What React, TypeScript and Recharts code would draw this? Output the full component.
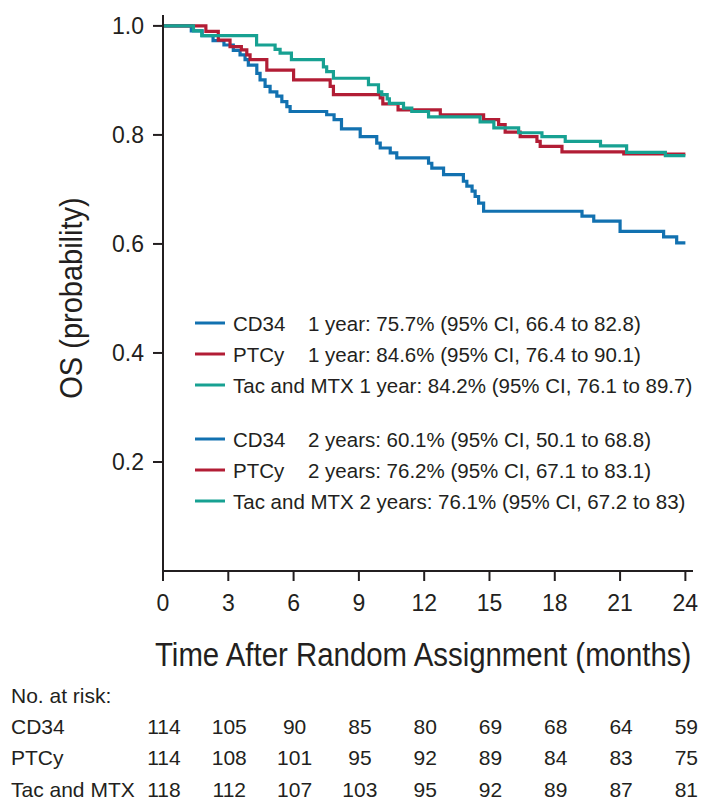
import React from 'react';
import { LineChart, Line, XAxis, YAxis } from 'recharts';

// Kaplan-Meier OS curves (months, probability)
const cd34Time = [0, 1.3, 1.8, 2.3, 2.8, 3.23, 3.54, 3.77, 3.92, 4.31, 4.46, 4.69, 4.92, 5.23, 5.46, 5.69, 5.84, 7.52, 7.86, 8.2, 9.06, 9.82, 9.98, 10.44, 10.74, 12.2, 12.35, 12.89, 13.8, 13.96, 14.2, 14.34, 14.5, 14.73, 19.25, 19.79, 21.0, 23.0, 23.6, 24.0];
const cd34Surv = [1.0, 0.991, 0.982, 0.973, 0.965, 0.955, 0.947, 0.938, 0.928, 0.913, 0.901, 0.889, 0.879, 0.871, 0.861, 0.852, 0.843, 0.837, 0.828, 0.811, 0.797, 0.785, 0.776, 0.767, 0.758, 0.748, 0.739, 0.727, 0.715, 0.706, 0.697, 0.687, 0.675, 0.66, 0.651, 0.642, 0.623, 0.613, 0.602, 0.602];

const ptcyTime = [0, 1.97, 2.54, 3.08, 3.6, 3.85, 4.0, 4.77, 6.0, 7.68, 7.83, 9.98, 10.1, 10.8, 12.74, 14.73, 15.42, 15.72, 16.41, 17.18, 17.33, 18.33, 21.17, 24.0];
const ptcySurv = [1.0, 0.99, 0.974, 0.962, 0.956, 0.947, 0.938, 0.919, 0.901, 0.889, 0.874, 0.868, 0.857, 0.846, 0.837, 0.828, 0.819, 0.805, 0.797, 0.788, 0.779, 0.769, 0.765, 0.765];

const tacTime = [0, 1.4, 1.78, 4.3, 5.15, 5.38, 5.9, 7.37, 7.52, 7.83, 9.44, 9.9, 10.05, 10.3, 10.4, 11.05, 11.43, 12.2, 14.57, 15.2, 16.34, 17.41, 18.48, 20.1, 21.3, 23.08, 24.0];
const tacSurv = [1.0, 0.991, 0.982, 0.965, 0.957, 0.95, 0.938, 0.925, 0.916, 0.904, 0.892, 0.879, 0.874, 0.866, 0.858, 0.849, 0.843, 0.833, 0.824, 0.813, 0.804, 0.797, 0.788, 0.78, 0.768, 0.762, 0.762];

const xTicks = [0, 3, 6, 9, 12, 15, 18, 21, 24];
const yTicks = [0.2, 0.4, 0.6, 0.8, 1.0];

const riskLabels = ['CD34', 'PTCy', 'Tac and MTX'];
const riskCd34 = [114, 105, 90, 85, 80, 69, 68, 64, 59];
const riskPtcy = [114, 108, 101, 95, 92, 89, 84, 83, 75];
const riskTac = [118, 112, 107, 103, 95, 92, 89, 87, 81];

const legendNames = ['CD34', 'PTCy', 'Tac and MTX', 'CD34', 'PTCy', 'Tac and MTX'];
const legendTexts = [
  '1 year: 75.7% (95% CI, 66.4 to 82.8)',
  '1 year: 84.6% (95% CI, 76.4 to 90.1)',
  '1 year: 84.2% (95% CI, 76.1 to 89.7)',
  '2 years: 60.1% (95% CI, 50.1 to 68.8)',
  '2 years: 76.2% (95% CI, 67.1 to 83.1)',
  '2 years: 76.1% (95% CI, 67.2 to 83)',
];

const BLUE = '#1271b0';
const RED = '#b21d35';
const TEAL = '#17a192';
const INK = '#231f20';
const FONT = "'Liberation Sans', Arial, sans-serif";

const legendColors = [BLUE, RED, TEAL, BLUE, RED, TEAL];
const legendRows = [323, 354, 385, 439, 470, 501];

const toPoints = (t: number[], s: number[]) => t.map((v, i) => ({ t: v, s: s[i] }));

// plot geometry (page px) used for the risk table columns
const X0 = 163;
const PX_PER_MONTH = 530 / 24.35;

export default function App() {
  const series = [
    { name: 'CD34', color: BLUE, data: toPoints(cd34Time, cd34Surv) },
    { name: 'PTCy', color: RED, data: toPoints(ptcyTime, ptcySurv) },
    { name: 'Tac and MTX', color: TEAL, data: toPoints(tacTime, tacSurv) },
  ];
  const riskRows = [riskCd34, riskPtcy, riskTac];

  return (
    <div style={{ position: 'absolute', left: 0, top: 0, width: 707, height: 801, background: '#fff', overflow: 'hidden' }}>
      <LineChart width={707} height={801} margin={{ top: 15, right: 14, bottom: 200, left: 103 }}>
        <XAxis
          type="number"
          dataKey="t"
          domain={[0, 24.35]}
          ticks={xTicks}
          height={30}
          tickSize={10}
          tickMargin={14}
          axisLine={{ stroke: INK, strokeWidth: 2 }}
          tickLine={{ stroke: INK, strokeWidth: 2 }}
          tick={{ fill: INK, fontSize: 23, fontFamily: FONT }}
          allowDataOverflow
        />
        <YAxis
          type="number"
          dataKey="s"
          domain={[0, 1.02]}
          ticks={yTicks}
          width={60}
          tickSize={10}
          tickMargin={9}
          tickFormatter={(v: number) => v.toFixed(1)}
          axisLine={{ stroke: INK, strokeWidth: 2 }}
          tickLine={{ stroke: INK, strokeWidth: 2 }}
          tick={{ fill: INK, fontSize: 23, fontFamily: FONT }}
          allowDataOverflow
        />
        {series.map((sr) => (
          <Line
            key={sr.name}
            data={sr.data}
            dataKey="s"
            name={sr.name}
            type="stepAfter"
            stroke={sr.color}
            strokeWidth={3.2}
            dot={false}
            activeDot={false}
            isAnimationActive={false}
          />
        ))}
      </LineChart>

      <svg width={707} height={801} style={{ position: 'absolute', left: 0, top: 0, pointerEvents: 'none' }}>
        <text transform="translate(82 298) rotate(-90) scale(1 1.05)" x={0} y={0} textAnchor="middle"
          fontFamily={FONT} fontSize={29} fill={INK}>OS (probability)</text>
        <text transform="translate(155 666) scale(1 1.13)" x={0} y={0}
          fontFamily={FONT} fontSize={29.4} fill={INK}>Time After Random Assignment (months)</text>

        {legendNames.map((nm, i) => (
          <g key={i}>
            <line x1={195} x2={225} y1={legendRows[i]} y2={legendRows[i]} stroke={legendColors[i]} strokeWidth={3} />
            {nm === 'Tac and MTX' ? (
              <text x={233} y={legendRows[i]} dominantBaseline="central" fontFamily={FONT} fontSize={20.5} fill={INK}>
                {nm + ' ' + legendTexts[i]}
              </text>
            ) : (
              <>
                <text x={233} y={legendRows[i]} dominantBaseline="central" fontFamily={FONT} fontSize={20.5} fill={INK}>{nm}</text>
                <text x={308} y={legendRows[i]} dominantBaseline="central" fontFamily={FONT} fontSize={20.5} fill={INK}>{legendTexts[i]}</text>
              </>
            )}
          </g>
        ))}

        <text x={11} y={703} fontFamily={FONT} fontSize={21} fill={INK}>No. at risk:</text>
        {riskLabels.map((lb, r) => (
          <g key={lb}>
            <text x={11} y={734 + r * 31.3} fontFamily={FONT} fontSize={21} fill={INK}>{lb}</text>
            {riskRows[r].map((n, i) => (
              <text key={i} x={X0 + xTicks[i] * PX_PER_MONTH + 1} y={734 + r * 31.3} textAnchor="middle"
                fontFamily={FONT} fontSize={21} fill={INK}>{n}</text>
            ))}
          </g>
        ))}
      </svg>
    </div>
  );
}
